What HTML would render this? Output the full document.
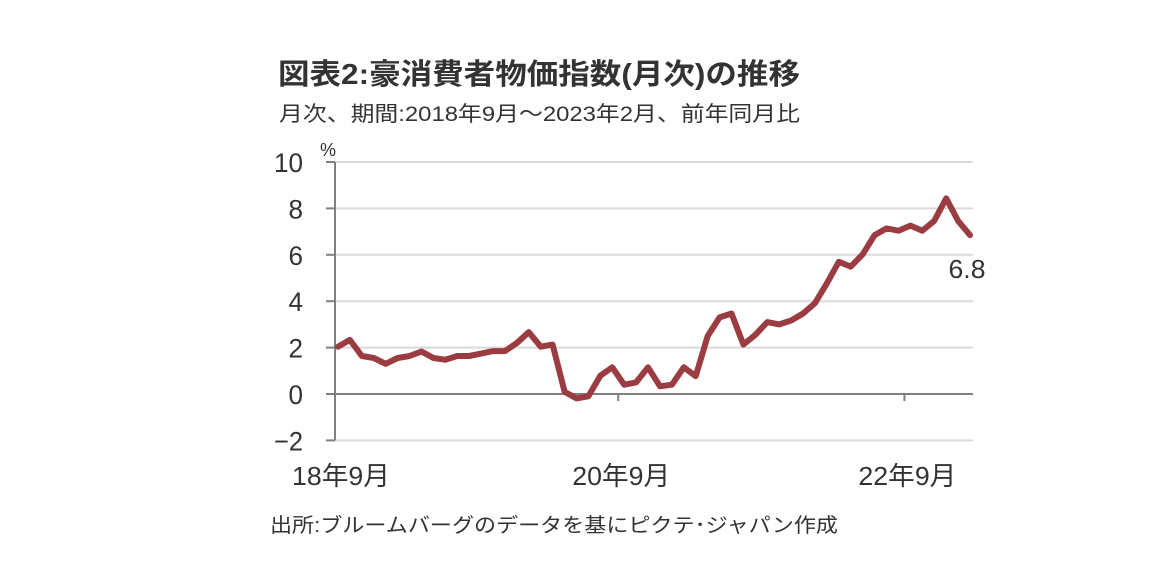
<!DOCTYPE html>
<html><head><meta charset="utf-8"><style>
html,body{margin:0;padding:0;background:#fff;}
svg{display:block;font-family:"Liberation Sans Narrow","Liberation Sans","Noto Sans CJK JP",sans-serif;}
</style></head><body>
<svg id="chart" width="1152" height="580" viewBox="0 0 1152 580">
<text x="278" y="84" font-size="29" font-weight="bold" fill="#333" textLength="522" lengthAdjust="spacingAndGlyphs" font-family="Liberation Sans, Noto Sans CJK JP, sans-serif">図表2:豪消費者物価指数(月次)の推移</text>
<text x="279" y="121" font-size="21" fill="#333" textLength="521" lengthAdjust="spacingAndGlyphs">月次、期間:2018年9月～2023年2月、前年同月比</text>
<text x="320" y="156" font-size="18" fill="#333">%</text>
<g id="grid"></g><g id="yaxis"></g><g id="xaxis"></g><g id="series"></g>
<text x="270" y="532" font-size="20" fill="#333" textLength="568" lengthAdjust="spacingAndGlyphs">出所:ブルームバーグのデータを基にピクテ･ジャパン作成</text>
</svg>
<script>
const values=[2.04,2.33,1.64,1.55,1.3,1.55,1.64,1.83,1.55,1.48,1.64,1.64,1.74,1.85,1.85,2.2,2.67,2.04,2.13,0.1,-0.19,-0.1,0.79,1.15,0.4,0.5,1.15,0.33,0.4,1.15,0.77,2.5,3.3,3.47,2.13,2.55,3.1,3.0,3.17,3.47,3.92,4.77,5.7,5.49,6.02,6.85,7.14,7.04,7.26,7.04,7.46,8.43,7.46,6.85];
const yTicks=[-2,0,2,4,6,8,10];
const xLabels=["18年9月","20年9月","22年9月"];
const xLabelIdx=[0,23.5,47.5];
const lastLabel="6.8";
const NS="http://www.w3.org/2000/svg";
const L=335,R=973,x0=338,dx=(970-338)/53;
const X=i=>x0+i*dx, Y=v=>394-v*23.2;
function mk(tag,attrs,parent){const e=document.createElementNS(NS,tag);for(const k in attrs)e.setAttribute(k,attrs[k]);parent.appendChild(e);return e;}
const grid=document.getElementById('grid'),ya=document.getElementById('yaxis'),xa=document.getElementById('xaxis'),se=document.getElementById('series');
yTicks.forEach(t=>{
  if(t!==0){const g=mk('line',{x1:L,x2:R,y1:Y(t),y2:Y(t),stroke:'#d9d9d9','stroke-width':2},grid);
  
  }
  const tk=mk('line',{x1:L-9,x2:L,y1:Y(t),y2:Y(t),stroke:'#808080','stroke-width':2},ya);
  
  
  const s=t<0?'−'+Math.abs(t):String(t);
  const tx=mk('text',{x:303,y:Y(t)+10,'font-size':27,fill:'#333','text-anchor':'end',textLength:s.length*14.5,lengthAdjust:'spacingAndGlyphs'},ya);
  tx.textContent=s;
  
  
});
const yl=mk('line',{x1:L,x2:L,y1:Y(10),y2:Y(-2),stroke:'#808080','stroke-width':2},ya);


const xl=mk('line',{x1:L,x2:R,y1:Y(0),y2:Y(0),stroke:'#808080','stroke-width':2},xa);


xLabels.forEach((s,k)=>{
  const xx=X(xLabelIdx[k]);
  if(k>0){const tk=mk('line',{x1:xx,x2:xx,y1:Y(0),y2:Y(0)+7,stroke:'#808080','stroke-width':2},xa);
  
  }
  const tx=mk('text',{x:xx-49+3,y:485,'font-size':26,fill:'#333',textLength:98,lengthAdjust:'spacingAndGlyphs'},xa);
  tx.textContent=s;
  
  
});
const pts=values.map((v,i)=>X(i).toFixed(1)+','+Y(v).toFixed(1)).join(' ');
const pl=mk('polyline',{points:pts,fill:'none',stroke:'#9b3b42','stroke-width':6,'stroke-linejoin':'round','stroke-linecap':'round'},se);


const n=values.length-1;
const lb=mk('text',{x:X(n)-3,y:Y(values[n])+43,'font-size':26,fill:'#333','text-anchor':'middle',textLength:37,lengthAdjust:'spacingAndGlyphs'},se);
lb.textContent=lastLabel;


</script>
</body></html>
